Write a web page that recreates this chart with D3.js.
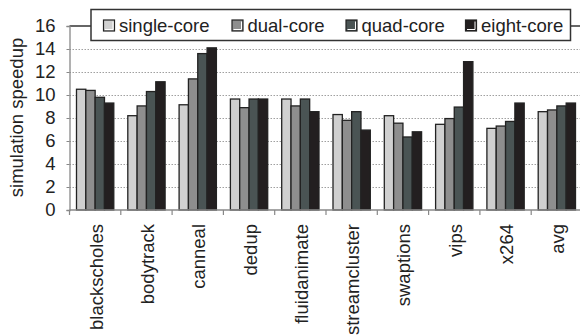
<!DOCTYPE html>
<html>
<head>
<meta charset="utf-8">
<script src="https://cdn.jsdelivr.net/npm/d3@7"></script>
<style>
  html, body { margin: 0; padding: 0; background: #fff; }
  svg { display: block; }
  text { font-family: "Liberation Sans", Arial, sans-serif; fill: #222; }
</style>
</head>
<body>
<svg id="chart" width="580" height="336"></svg>
<script>
// Benchmarks on the x axis
const categories = ["blackscholes", "bodytrack", "canneal", "dedup", "fluidanimate",
                    "streamcluster", "swaptions", "vips", "x264", "avg"];
// Series (core configurations)
const seriesNames = ["single-core", "dual-core", "quad-core", "eight-core"];
// Simulation speedup per benchmark, one array per series
const singleCore = [10.5, 8.2, 9.15, 9.65, 9.65, 8.3, 8.2, 7.45, 7.1, 8.55];
const dualCore   = [10.4, 9.05, 11.4, 8.9, 9.05, 7.8, 7.55, 7.95, 7.3, 8.7];
const quadCore   = [9.8, 10.3, 13.6, 9.65, 9.65, 8.55, 6.35, 8.95, 7.7, 9.05];
const eightCore  = [9.3, 11.15, 14.1, 9.65, 8.55, 6.95, 6.8, 12.9, 9.3, 9.3];
const yTicks = [0, 2, 4, 6, 8, 10, 12, 14, 16];

const seriesValues = [singleCore, dualCore, quadCore, eightCore];
const colors = ["#d0d0d0", "#8e8e8e", "#4a5454", "#231f20"];
const fontSize = 18.5;

const svg = d3.select("#chart");
const plotLeft = 69.5, plotRight = 582.5, plotTop = 26, plotBottom = 210;

const x0 = d3.scaleBand().domain(categories).range([plotLeft, plotRight]).padding(0);
const x1 = d3.scaleBand().domain(seriesNames).range([7, x0.bandwidth() - 7]).padding(0);
const y = d3.scaleLinear().domain([0, 16]).range([plotBottom, plotTop]);

// dotted gridlines
svg.append("g")
  .selectAll("line")
  .data(yTicks.filter(t => t > 0 && t < 16))
  .join("line")
  .attr("x1", plotLeft).attr("x2", 580)
  .attr("y1", d => y(d) + 0.5).attr("y2", d => y(d) + 0.5)
  .attr("stroke", "#a0a0a0")
  .attr("stroke-width", 1)
  .attr("stroke-dasharray", "1.5,1.5");

// top frame line
svg.append("line")
  .attr("x1", plotLeft).attr("x2", 580)
  .attr("y1", y(16)).attr("y2", y(16))
  .attr("stroke", "#333").attr("stroke-width", 1.5);

// bars
const groups = svg.append("g")
  .selectAll("g")
  .data(categories)
  .join("g")
  .attr("transform", d => `translate(${x0(d)},0)`);

groups.selectAll("rect")
  .data((d, i) => seriesNames.map((s, j) => ({ s, j, v: seriesValues[j][i] })))
  .join("rect")
  .attr("x", d => x1(d.s))
  .attr("width", x1.bandwidth())
  .attr("y", d => y(d.v))
  .attr("height", d => y(0) - y(d.v))
  .attr("fill", d => colors[d.j])
  .attr("stroke", "#222")
  .attr("stroke-width", 1.3);

// y axis
const yAxis = d3.axisLeft(y).tickValues(yTicks).tickSize(3).tickPadding(11);
const gy = svg.append("g").attr("transform", `translate(${plotLeft},0)`).call(yAxis);
gy.select(".domain").attr("stroke", "#888").attr("stroke-width", 1.3);
gy.selectAll(".tick line").attr("stroke", "#888");
gy.selectAll(".tick text")
  .attr("font-size", fontSize)
  .attr("font-family", "Liberation Sans, Arial, sans-serif")
  .attr("fill", "#222");

// x axis
svg.append("line")
  .attr("x1", plotLeft).attr("x2", 580)
  .attr("y1", plotBottom).attr("y2", plotBottom)
  .attr("stroke", "#888").attr("stroke-width", 1.3);
svg.append("g")
  .selectAll("line")
  .data(categories)
  .join("line")
  .attr("x1", d => x0(d)).attr("x2", d => x0(d))
  .attr("y1", plotBottom).attr("y2", plotBottom + 5)
  .attr("stroke", "#888").attr("stroke-width", 1.2);

svg.append("g")
  .selectAll("text")
  .data(categories)
  .join("text")
  .attr("transform", d => `translate(${x0(d) + x0.bandwidth() / 2 + 1},224) rotate(-90)`)
  .attr("text-anchor", "end")
  .attr("dy", "0.35em")
  .attr("font-size", fontSize)
  .text(d => d);

// y axis title
svg.append("text")
  .attr("transform", "translate(23,117.5) rotate(-90)")
  .attr("text-anchor", "middle")
  .attr("font-size", fontSize)
  .text("simulation speedup");

// legend
const legend = svg.append("g");
legend.append("rect")
  .attr("x", 91).attr("y", 9.5)
  .attr("width", 479.5).attr("height", 31)
  .attr("fill", "#fff")
  .attr("stroke", "#333").attr("stroke-width", 1.5);

const legendX = [103.5, 232, 346, 465.5];
const items = legend.selectAll("g.item")
  .data(seriesNames)
  .join("g")
  .attr("class", "item")
  .attr("transform", (d, i) => `translate(${legendX[i]},20)`);

items.append("rect")
  .attr("x", 0).attr("y", 0)
  .attr("width", 11).attr("height", 11)
  .attr("fill", (d, i) => colors[i])
  .attr("stroke", "#222").attr("stroke-width", 1.2);
items.append("polyline")
  .attr("points", "1.5,9.5 9.5,9.5 9.5,1.5")
  .attr("fill", "none")
  .attr("stroke", "#fff").attr("stroke-width", 1);
items.append("text")
  .attr("x", 15.5).attr("y", 11.5)
  .attr("font-size", fontSize)
  .text(d => d);
</script>
</body>
</html>
